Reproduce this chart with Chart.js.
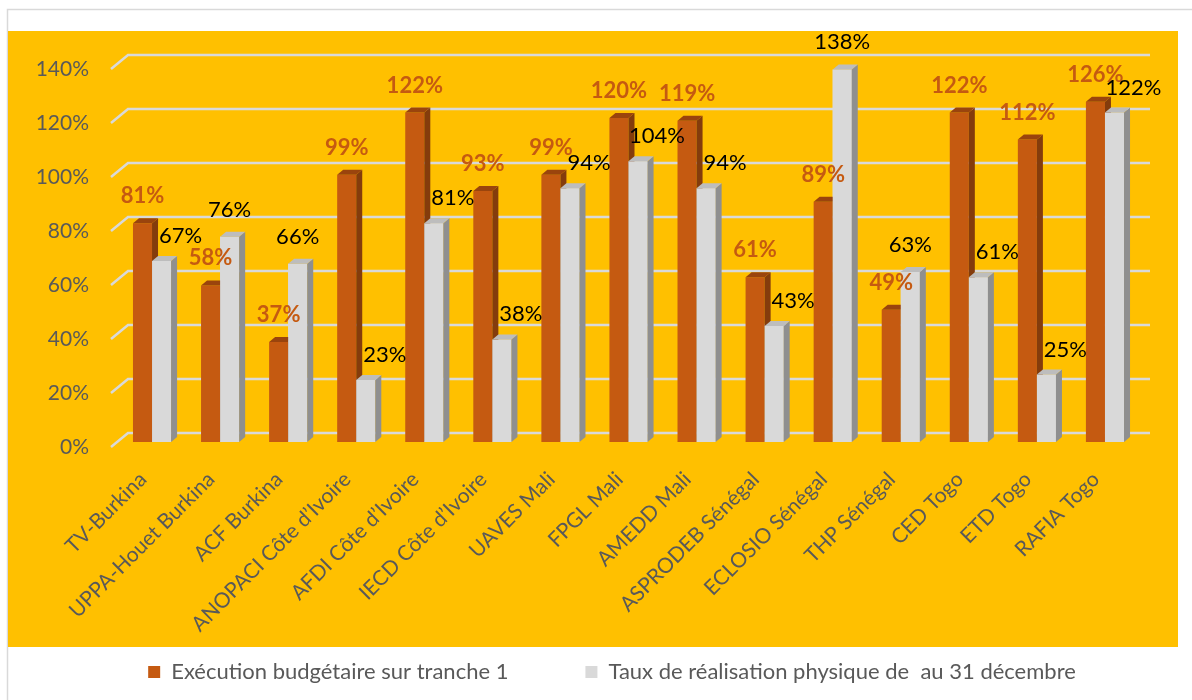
<!DOCTYPE html>
<html><head><meta charset="utf-8">
<script src="https://cdn.jsdelivr.net/npm/chart.js@4.4.1/dist/chart.umd.min.js"></script>
<style>html,body{margin:0;padding:0;background:#fff}#wrap{width:1192px;height:700px}</style>
</head><body><div id="wrap"><canvas id="c" width="1192" height="700"></canvas></div>
<script>
const categories = ["TV-Burkina","UPPA-Houet Burkina","ACF Burkina","ANOPACI Côte d’Ivoire","AFDI Côte d’Ivoire","IECD Côte d’Ivoire","UAVES Mali","FPGL Mali","AMEDD Mali","ASPRODEB Sénégal","ECLOSIO Sénégal","THP Sénégal","CED Togo","ETD Togo","RAFIA Togo"];
const budgetExecution = [81,58,37,99,122,93,99,120,119,61,89,49,122,112,126];
const physicalRealisation = [67,76,66,23,81,38,94,104,94,43,138,63,61,25,122];
const seriesNames = ["Exécution budgétaire sur tranche 1","Taux de réalisation physique de  au 31 décembre"];
const yMin = 0, yMax = 140, yStep = 20;

const FRONT = ['#C55A11','#D9D9D9'];
const SIDE = ['#843C0C','#8F8F8F'];
const TOP = ['#9A440D','#BDBDBD'];
const DX = 6, DY = 5;
const LEGEND_FONT = 22, LEGEND_PAD = 77, LEGEND_Y = 672;

function draw3D(ctx, meta, i) {
  meta.data.forEach(el => {
    const p = el.getProps(['x','y','base','width'], true);
    const l = p.x - p.width/2, r = p.x + p.width/2;
    ctx.fillStyle = SIDE[i];
    ctx.beginPath();
    ctx.moveTo(r, p.y); ctx.lineTo(r + DX, p.y - DY); ctx.lineTo(r + DX, p.base - DY); ctx.lineTo(r, p.base);
    ctx.closePath(); ctx.fill();
    ctx.fillStyle = TOP[i];
    ctx.beginPath();
    ctx.moveTo(l, p.y); ctx.lineTo(l + DX, p.y - DY); ctx.lineTo(r + DX, p.y - DY); ctx.lineTo(r, p.y);
    ctx.closePath(); ctx.fill();
  });
}

const deco = {
  id: 'deco',
  afterLayout(chart) {
    const lg = chart.legend;
    if (lg) {
      lg.left += 24; lg.right += 24;
      lg.top = LEGEND_Y - LEGEND_PAD - LEGEND_FONT / 2;
      lg.bottom = chart.height;
    }
  },
  beforeDraw(chart) {
    const ctx = chart.ctx, a = chart.chartArea, y = chart.scales.y;
    ctx.save();
    ctx.fillStyle = '#fff'; ctx.fillRect(0, 0, chart.width, chart.height);
    ctx.strokeStyle = '#D9D9D9'; ctx.lineWidth = 1.5;
    ctx.strokeRect(7.5, 9.5, chart.width + 20, chart.height + 20);
    ctx.fillStyle = '#FFC000'; ctx.fillRect(8, 31, 1170, 616);
    ctx.strokeStyle = '#D9D9D9'; ctx.lineWidth = 2.5;
    y.ticks.forEach(t => {
      const py = y.getPixelForValue(t.value);
      ctx.beginPath();
      ctx.moveTo(a.left - 7, py + 5);
      ctx.lineTo(a.left + 10, py - 9);
      ctx.lineTo(a.right + 11, py - 9);
      ctx.stroke();
    });
    ctx.restore();
  },
  afterDatasetsDraw(chart) {
    const ctx = chart.ctx;
    const mo = chart.getDatasetMeta(0), mg = chart.getDatasetMeta(1);
    ctx.save();
    draw3D(ctx, mo, 0);
    mg.data.forEach(el => el.draw(ctx));
    draw3D(ctx, mg, 1);
    ctx.textAlign = 'center'; ctx.textBaseline = 'middle';
    mo.data.forEach((el, k) => {
      ctx.font = 'bold 22px Lato';
      ctx.fillStyle = '#C55A11';
      ctx.fillText(budgetExecution[k] + '%', el.x, el.y - 27);
    });
    mg.data.forEach((el, k) => {
      ctx.font = '22px Lato';
      ctx.fillStyle = '#000';
      const shift = physicalRealisation[k] < budgetExecution[k];
      ctx.fillText(physicalRealisation[k] + '%', el.x + (shift ? 19 : 0), el.y - (shift ? 25 : 27));
    });
    ctx.restore();
  }
};

Chart.defaults.font.family = 'Lato';
new Chart(document.getElementById('c'), {
  type: 'bar',
  data: {
    labels: categories,
    datasets: [
      { label: seriesNames[0], data: budgetExecution, backgroundColor: FRONT[0], borderWidth: 0,
        categoryPercentage: 0.56, barPercentage: 1.0 },
      { label: seriesNames[1], data: physicalRealisation, backgroundColor: FRONT[1], borderWidth: 0,
        categoryPercentage: 0.56, barPercentage: 1.0 }
    ]
  },
  options: {
    responsive: false,
    animation: false,
    layout: { padding: { left: 37, right: 53, top: 64, bottom: 3 } },
    plugins: {
      tooltip: { enabled: false },
      legend: {
        position: 'bottom',
        maxHeight: 50,
        labels: { font: { size: LEGEND_FONT, family: 'Lato' }, color: '#595959', boxWidth: 12, boxHeight: 12, padding: LEGEND_PAD }
      }
    },
    scales: {
      y: {
        min: yMin, max: yMax,
        ticks: { stepSize: yStep, callback: v => v + '%', font: { size: 21 }, color: '#595959', padding: 29, labelOffset: 5 },
        grid: { display: false, drawTicks: false },
        border: { display: false },
        afterFit: s => { s.width = 81; }
      },
      x: {
        ticks: { font: { size: 21 }, color: '#595959', minRotation: 45, maxRotation: 45, autoSkip: false, padding: 25, labelOffset: -9 },
        grid: { display: false, drawTicks: false },
        border: { display: false },
        afterFit: s => { s.height = 205; }
      }
    }
  },
  plugins: [deco]
});
</script></body></html>
